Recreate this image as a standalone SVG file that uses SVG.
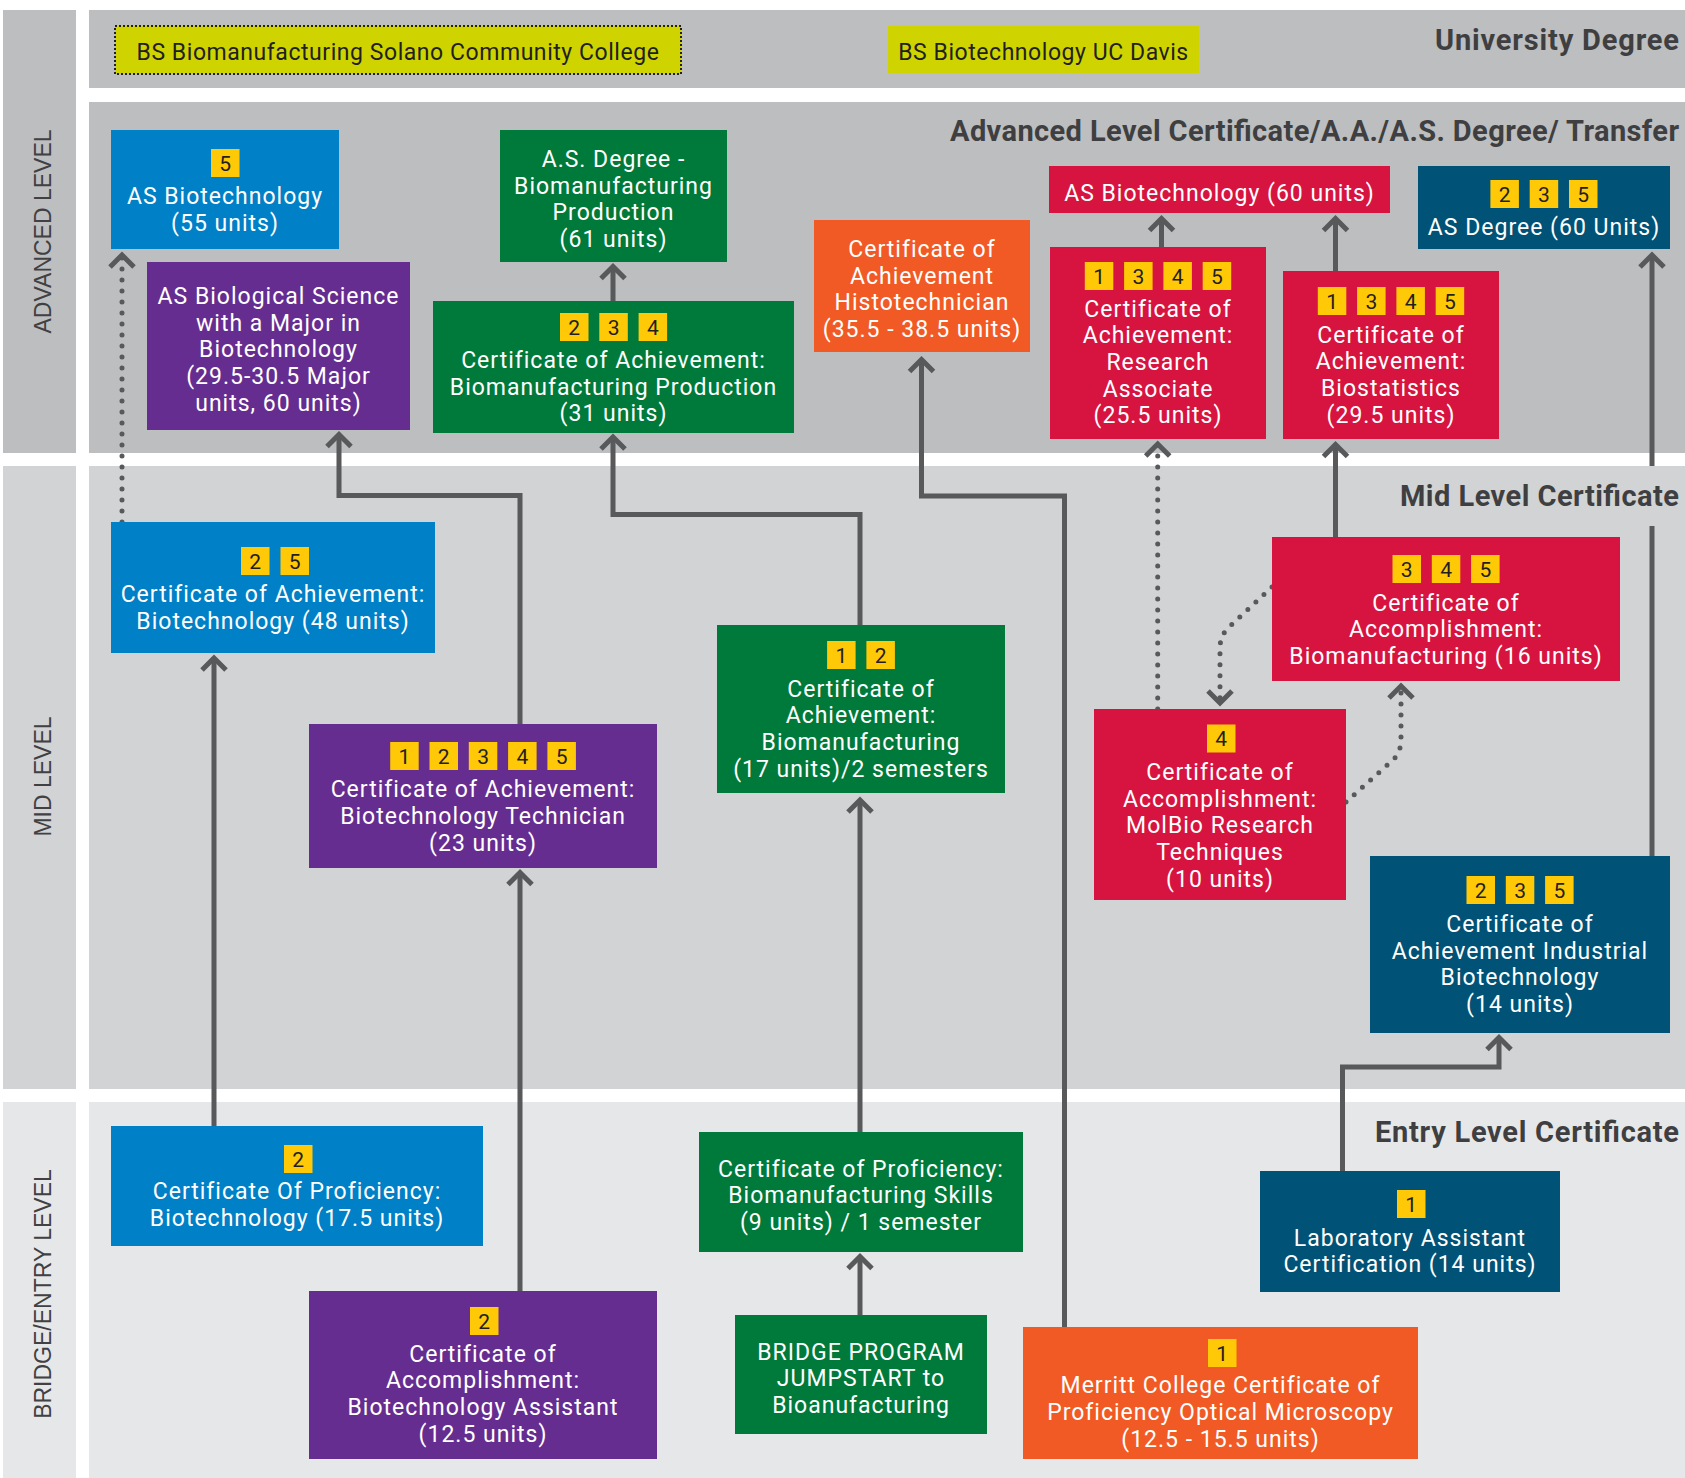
<svg xmlns="http://www.w3.org/2000/svg" width="1685" height="1478" viewBox="0 0 1685 1478">
<style>
.bg{fill:#fff}
.band1{fill:#bcbec0}
.band2{fill:#d1d3d4}
.band3{fill:#e6e7e8}
.vl{font-family:"Liberation Sans",Arial,sans-serif;font-size:23px;fill:#414042;text-anchor:middle}
.h{font-family:Roboto,"Liberation Sans",sans-serif;font-weight:700;font-size:29px;fill:#3f3f41;text-anchor:end}
.t{font-family:Roboto,"Liberation Sans",sans-serif;font-size:23px;letter-spacing:1px;fill:#fff;text-anchor:middle}
.dk{fill:#231f20;letter-spacing:0.55px}
.blue{fill:#0080c6}
.purple{fill:#662d91}
.green{fill:#007a3a}
.orange{fill:#f15a24}
.red{fill:#d7143f}
.teal{fill:#005276}
.yg{fill:#cfd400}
.bd{fill:#ffc907}
.bn{font-family:Roboto,"Liberation Sans",sans-serif;font-size:21px;fill:#231f20;text-anchor:middle}
.c{fill:none;stroke:#58595b;stroke-width:5}
.dot{fill:none;stroke:#58595b;stroke-width:5;stroke-dasharray:0 11;stroke-linecap:round}
.arr{marker-end:url(#ah)}
</style>
<defs>
<marker id="ah" viewBox="-20 -20 40 40" markerWidth="40" markerHeight="40" refX="0" refY="0" orient="auto" markerUnits="userSpaceOnUse" overflow="visible">
<path d="M-12,-12 L0,0 L-12,12" fill="none" stroke="#58595b" stroke-width="5"/>
</marker>
</defs>
<rect class="bg" x="0" y="0" width="1685" height="1478"/>
<g id="bands">
<rect class="band1" x="3" y="10" width="73" height="443"/>
<rect class="band1" x="89" y="10" width="1596" height="78"/>
<rect class="band1" x="89" y="102" width="1596" height="351"/>
<rect class="band2" x="3" y="466" width="73" height="623"/>
<rect class="band2" x="89" y="466" width="1596" height="623"/>
<rect class="band3" x="3" y="1102" width="73" height="376"/>
<rect class="band3" x="89" y="1102" width="1596" height="376"/>
<text class="vl" transform="translate(51,231.5) rotate(-90)">ADVANCED LEVEL</text>
<text class="vl" transform="translate(51,776.5) rotate(-90)">MID LEVEL</text>
<text class="vl" transform="translate(51,1294) rotate(-90)">BRIDGE/ENTRY LEVEL</text>
<text class="h" x="1679" y="49.5" textLength="244">University Degree</text>
<text class="h" x="1679" y="141" textLength="729">Advanced Level Certificate/A.A./A.S. Degree/ Transfer</text>
<text class="h" x="1679" y="506" textLength="279">Mid Level Certificate</text>
<text class="h" x="1679" y="1141.5" textLength="304">Entry Level Certificate</text>
</g>
<g id="connectors">
<path class="dot arr" d="M122,522 V255"/>
<path class="c arr" d="M520,724 V495.5 H339 V434.5"/>
<path class="c arr" d="M860,625 V514.5 H613 V437"/>
<path class="c arr" d="M613,301 V266.5"/>
<path class="c arr" d="M1064.5,1327 V496 H921.5 V359.5"/>
<path class="c arr" d="M214,1126 V658"/>
<path class="c arr" d="M520,1291 V872.5"/>
<path class="c arr" d="M860,1132 V800"/>
<path class="c arr" d="M860,1315 V1256.5"/>
<path class="c arr" d="M1342.5,1171 V1067 H1499 V1037.5"/>
<path class="c" d="M1652,856 V526"/>
<path class="c arr" d="M1652,466 V255"/>
<path class="c arr" d="M1335.5,271 V218.5"/>
<path class="c arr" d="M1161.5,247 V218.5"/>
<path class="c arr" d="M1335.5,537 V444.5"/>
<path class="dot arr" d="M1157.7,709 V444"/>
<path class="dot arr" d="M1272,587 L1228,628 Q1220,636 1220,648 V703"/>
<path class="dot arr" d="M1346,802 L1393,760 Q1401,752 1401,740 V686"/>
</g>
<g id="n1">
<rect class="yg" x="115" y="26" width="566" height="48" stroke="#231f20" stroke-width="2" stroke-dasharray="2 2"/>
<text class="t dk" x="398" y="59.5">BS Biomanufacturing Solano Community College</text>
</g>
<g id="n2">
<rect class="yg" x="888" y="26" width="311" height="47"/>
<text class="t dk" x="1043.5" y="59.5">BS Biotechnology UC Davis</text>
</g>
<g id="n3">
<rect class="blue" x="111" y="130" width="228" height="119"/>
<rect class="bd" x="211" y="149" width="28.5" height="28"/><text class="bn" x="225.25" y="170.5">5</text>
<text class="t" x="225" y="204">AS Biotechnology</text>
<text class="t" x="225" y="230.5">(55 units)</text>
</g>
<g id="n4">
<rect class="purple" x="147" y="262" width="263" height="168"/>
<text class="t" x="278.5" y="304">AS Biological Science</text>
<text class="t" x="278.5" y="330.7">with a Major in</text>
<text class="t" x="278.5" y="357.3">Biotechnology</text>
<text class="t" x="278.5" y="384">(29.5-30.5 Major</text>
<text class="t" x="278.5" y="410.7">units, 60 units)</text>
</g>
<g id="n5">
<rect class="green" x="500" y="130" width="227" height="132"/>
<text class="t" x="613.5" y="167">A.S. Degree -</text>
<text class="t" x="613.5" y="193.7">Biomanufacturing</text>
<text class="t" x="613.5" y="220.3">Production</text>
<text class="t" x="613.5" y="247">(61 units)</text>
</g>
<g id="n6">
<rect class="green" x="433" y="301" width="361" height="132"/>
<rect class="bd" x="560" y="313" width="28.5" height="28"/><text class="bn" x="574.25" y="334.5">2</text>
<rect class="bd" x="599.3" y="313" width="28.5" height="28"/><text class="bn" x="613.55" y="334.5">3</text>
<rect class="bd" x="638.6" y="313" width="28.5" height="28"/><text class="bn" x="652.85" y="334.5">4</text>
<text class="t" x="613.5" y="368">Certificate of Achievement:</text>
<text class="t" x="613.5" y="394.7">Biomanufacturing Production</text>
<text class="t" x="613.5" y="421.3">(31 units)</text>
</g>
<g id="n7">
<rect class="orange" x="814" y="220" width="216" height="132"/>
<text class="t" x="922" y="257">Certificate of</text>
<text class="t" x="922" y="283.7">Achievement</text>
<text class="t" x="922" y="310.3">Histotechnician</text>
<text class="t" x="922" y="337">(35.5 - 38.5 units)</text>
</g>
<g id="n8">
<rect class="red" x="1049" y="166" width="341" height="47"/>
<text class="t" x="1219.5" y="200.7">AS Biotechnology (60 units)</text>
</g>
<g id="n9">
<rect class="teal" x="1418" y="166" width="252" height="83"/>
<rect class="bd" x="1490.4" y="180" width="28.5" height="28"/><text class="bn" x="1504.65" y="201.5">2</text>
<rect class="bd" x="1529.7" y="180" width="28.5" height="28"/><text class="bn" x="1543.95" y="201.5">3</text>
<rect class="bd" x="1569" y="180" width="28.5" height="28"/><text class="bn" x="1583.25" y="201.5">5</text>
<text class="t" x="1544" y="235">AS Degree (60 Units)</text>
</g>
<g id="n10">
<rect class="red" x="1050" y="247" width="216" height="192"/>
<rect class="bd" x="1084.8" y="262" width="28.5" height="28"/><text class="bn" x="1099.05" y="283.5">1</text>
<rect class="bd" x="1124.1" y="262" width="28.5" height="28"/><text class="bn" x="1138.35" y="283.5">3</text>
<rect class="bd" x="1163.4" y="262" width="28.5" height="28"/><text class="bn" x="1177.65" y="283.5">4</text>
<rect class="bd" x="1202.7" y="262" width="28.5" height="28"/><text class="bn" x="1216.95" y="283.5">5</text>
<text class="t" x="1158" y="316.7">Certificate of</text>
<text class="t" x="1158" y="343.3">Achievement:</text>
<text class="t" x="1158" y="370">Research</text>
<text class="t" x="1158" y="396.7">Associate</text>
<text class="t" x="1158" y="423.3">(25.5 units)</text>
</g>
<g id="n11">
<rect class="red" x="1283" y="271" width="216" height="168"/>
<rect class="bd" x="1317.8" y="287" width="28.5" height="28"/><text class="bn" x="1332.05" y="308.5">1</text>
<rect class="bd" x="1357.1" y="287" width="28.5" height="28"/><text class="bn" x="1371.35" y="308.5">3</text>
<rect class="bd" x="1396.4" y="287" width="28.5" height="28"/><text class="bn" x="1410.65" y="308.5">4</text>
<rect class="bd" x="1435.7" y="287" width="28.5" height="28"/><text class="bn" x="1449.95" y="308.5">5</text>
<text class="t" x="1391" y="342.7">Certificate of</text>
<text class="t" x="1391" y="369.3">Achievement:</text>
<text class="t" x="1391" y="396">Biostatistics</text>
<text class="t" x="1391" y="422.7">(29.5 units)</text>
</g>
<g id="n12">
<rect class="blue" x="111" y="522" width="324" height="131"/>
<rect class="bd" x="241" y="547" width="28.5" height="28"/><text class="bn" x="255.25" y="568.5">2</text>
<rect class="bd" x="280.5" y="547" width="28.5" height="28"/><text class="bn" x="294.75" y="568.5">5</text>
<text class="t" x="273" y="602">Certificate of Achievement:</text>
<text class="t" x="273" y="629">Biotechnology (48 units)</text>
</g>
<g id="n13">
<rect class="purple" x="309" y="724" width="348" height="144"/>
<rect class="bd" x="390.2" y="742" width="28.5" height="28"/><text class="bn" x="404.45" y="763.5">1</text>
<rect class="bd" x="429.5" y="742" width="28.5" height="28"/><text class="bn" x="443.75" y="763.5">2</text>
<rect class="bd" x="468.8" y="742" width="28.5" height="28"/><text class="bn" x="483.05" y="763.5">3</text>
<rect class="bd" x="508.1" y="742" width="28.5" height="28"/><text class="bn" x="522.35" y="763.5">4</text>
<rect class="bd" x="547.4" y="742" width="28.5" height="28"/><text class="bn" x="561.65" y="763.5">5</text>
<text class="t" x="483" y="797">Certificate of Achievement:</text>
<text class="t" x="483" y="823.8">Biotechnology Technician</text>
<text class="t" x="483" y="850.5">(23 units)</text>
</g>
<g id="n14">
<rect class="green" x="717" y="625" width="288" height="168"/>
<rect class="bd" x="827.1" y="641" width="28.5" height="28"/><text class="bn" x="841.35" y="662.5">1</text>
<rect class="bd" x="866.4" y="641" width="28.5" height="28"/><text class="bn" x="880.65" y="662.5">2</text>
<text class="t" x="861" y="696.7">Certificate of</text>
<text class="t" x="861" y="723.3">Achievement:</text>
<text class="t" x="861" y="750">Biomanufacturing</text>
<text class="t" x="861" y="776.7">(17 units)/2 semesters</text>
</g>
<g id="n15">
<rect class="red" x="1272" y="537" width="348" height="144"/>
<rect class="bd" x="1392.5" y="555" width="28.5" height="28"/><text class="bn" x="1406.75" y="576.5">3</text>
<rect class="bd" x="1431.8" y="555" width="28.5" height="28"/><text class="bn" x="1446.05" y="576.5">4</text>
<rect class="bd" x="1471.1" y="555" width="28.5" height="28"/><text class="bn" x="1485.35" y="576.5">5</text>
<text class="t" x="1446" y="610.5">Certificate of</text>
<text class="t" x="1446" y="637">Accomplishment:</text>
<text class="t" x="1446" y="663.5">Biomanufacturing (16 units)</text>
</g>
<g id="n16">
<rect class="red" x="1094" y="709" width="252" height="191"/>
<rect class="bd" x="1207" y="724.5" width="28.5" height="28"/><text class="bn" x="1221.25" y="746">4</text>
<text class="t" x="1220" y="780">Certificate of</text>
<text class="t" x="1220" y="806.7">Accomplishment:</text>
<text class="t" x="1220" y="833.3">MolBio Research</text>
<text class="t" x="1220" y="860">Techniques</text>
<text class="t" x="1220" y="886.7">(10 units)</text>
</g>
<g id="n17">
<rect class="teal" x="1370" y="856" width="300" height="177"/>
<rect class="bd" x="1466.5" y="876" width="28.5" height="28"/><text class="bn" x="1480.75" y="897.5">2</text>
<rect class="bd" x="1505.8" y="876" width="28.5" height="28"/><text class="bn" x="1520.05" y="897.5">3</text>
<rect class="bd" x="1545.1" y="876" width="28.5" height="28"/><text class="bn" x="1559.35" y="897.5">5</text>
<text class="t" x="1520" y="931.6">Certificate of</text>
<text class="t" x="1520" y="958.5">Achievement Industrial</text>
<text class="t" x="1520" y="985">Biotechnology</text>
<text class="t" x="1520" y="1012">(14 units)</text>
</g>
<g id="n18">
<rect class="blue" x="111" y="1126" width="372" height="120"/>
<rect class="bd" x="284" y="1145" width="28.5" height="28"/><text class="bn" x="298.25" y="1166.5">2</text>
<text class="t" x="297" y="1199">Certificate Of Proficiency:</text>
<text class="t" x="297" y="1225.7">Biotechnology (17.5 units)</text>
</g>
<g id="n19">
<rect class="purple" x="309" y="1291" width="348" height="168"/>
<rect class="bd" x="470" y="1307" width="28.5" height="28"/><text class="bn" x="484.25" y="1328.5">2</text>
<text class="t" x="483" y="1361.7">Certificate of</text>
<text class="t" x="483" y="1388.3">Accomplishment:</text>
<text class="t" x="483" y="1415">Biotechnology Assistant</text>
<text class="t" x="483" y="1441.7">(12.5 units)</text>
</g>
<g id="n20">
<rect class="green" x="699" y="1132" width="324" height="120"/>
<text class="t" x="861" y="1176.7">Certificate of Proficiency:</text>
<text class="t" x="861" y="1203.3">Biomanufacturing Skills</text>
<text class="t" x="861" y="1230">(9 units) / 1 semester</text>
</g>
<g id="n21">
<rect class="green" x="735" y="1315" width="252" height="119"/>
<text class="t" x="861" y="1360">BRIDGE PROGRAM</text>
<text class="t" x="861" y="1386.3">JUMPSTART to</text>
<text class="t" x="861" y="1412.7">Bioanufacturing</text>
</g>
<g id="n22">
<rect class="teal" x="1260" y="1171" width="300" height="121"/>
<rect class="bd" x="1397" y="1190" width="28.5" height="28"/><text class="bn" x="1411.25" y="1211.5">1</text>
<text class="t" x="1410" y="1245.7">Laboratory Assistant</text>
<text class="t" x="1410" y="1271.7">Certification (14 units)</text>
</g>
<g id="n23">
<rect class="orange" x="1023" y="1327" width="395" height="132"/>
<rect class="bd" x="1208" y="1339" width="28.5" height="28"/><text class="bn" x="1222.25" y="1360.5">1</text>
<text class="t" x="1220.5" y="1393.3">Merritt College Certificate of</text>
<text class="t" x="1220.5" y="1420">Proficiency Optical Microscopy</text>
<text class="t" x="1220.5" y="1446.7">(12.5 - 15.5 units)</text>
</g>
</svg>
